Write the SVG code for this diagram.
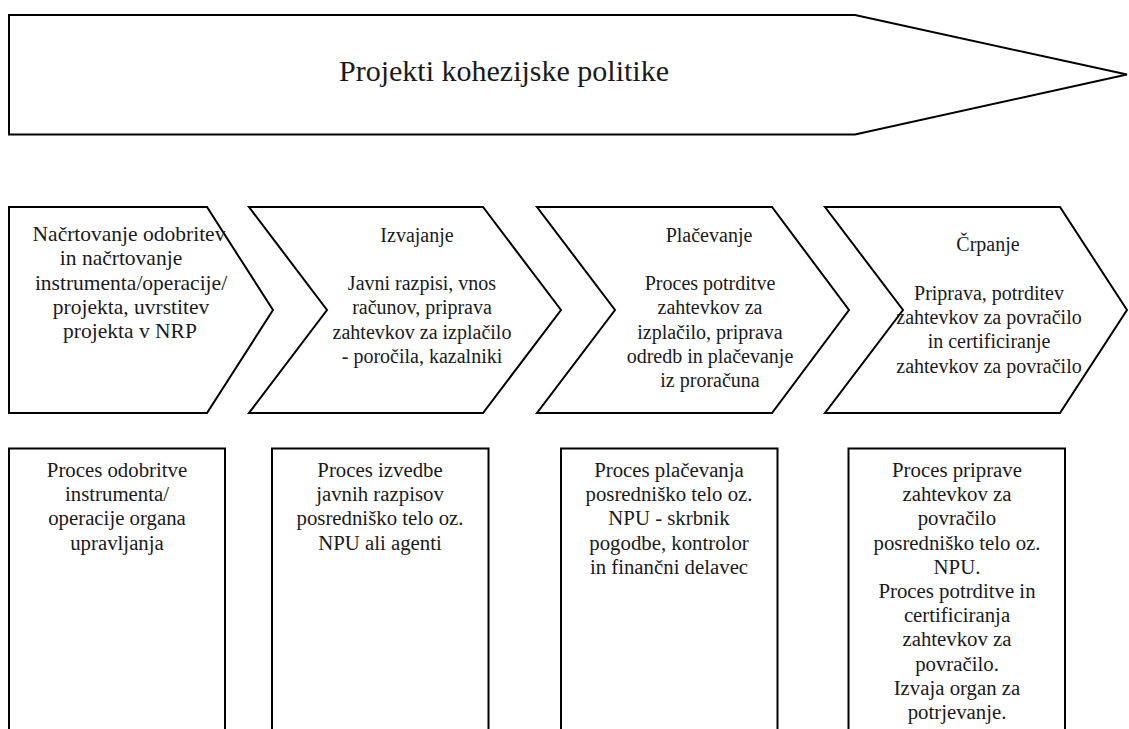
<svg xmlns="http://www.w3.org/2000/svg" width="1129" height="729" viewBox="0 0 1129 729">
<style>
.shape{fill:#fff;stroke:#000;stroke-width:2;stroke-linejoin:miter}
.t{font-family:"Liberation Serif","Times New Roman",serif;font-size:20px;fill:#1a1a1a;text-anchor:middle}
.t1{font-family:"Liberation Serif","Times New Roman",serif;font-size:21.5px;fill:#1a1a1a;text-anchor:middle}
.tb{font-family:"Liberation Serif","Times New Roman",serif;font-size:20.8px;fill:#1a1a1a;text-anchor:middle}
.title{font-family:"Liberation Serif","Times New Roman",serif;font-size:30px;fill:#1a1a1a;text-anchor:middle}
</style>
<rect width="1129" height="729" fill="#fff"/>
<g id="header">
<polygon class="shape" points="9,15 855,15 1127,74.5 855,134.5 9,134.5"/>
<text class="title" x="504" y="81">Projekti kohezijske politike</text>
</g>
<g id="step1">
<polygon class="shape" points="9,207 207,207 273,310 207,413 9,413"/>
<text class="t1" x="129" y="241">Načrtovanje odobritev</text>
<text class="t1" x="121" y="265.3">in načrtovanje</text>
<text class="t1" x="131" y="289.6">instrumenta/operacije/</text>
<text class="t1" x="131" y="313.9">projekta, uvrstitev</text>
<text class="t1" x="130" y="338.2">projekta v NRP</text>
</g>
<g id="step2">
<polygon class="shape" points="249,207 483,207 561,310 483,413 249,413 327,310"/>
<text class="t" x="417" y="241.5">Izvajanje</text>
<text class="t" x="422" y="290">Javni razpisi, vnos</text>
<text class="t" x="422" y="314.3">računov, priprava</text>
<text class="t" x="422" y="338.6">zahtevkov za izplačilo</text>
<text class="t" x="422" y="362.9">- poročila, kazalniki</text>
</g>
<g id="step3">
<polygon class="shape" points="537,207 772,207 849,310 772,413 537,413 615,310"/>
<text class="t" x="709" y="241.5">Plačevanje</text>
<text class="t" x="710" y="290">Proces potrditve</text>
<text class="t" x="710" y="314.3">zahtevkov za</text>
<text class="t" x="710" y="338.6">izplačilo, priprava</text>
<text class="t" x="710" y="362.9">odredb in plačevanje</text>
<text class="t" x="710" y="387.2">iz proračuna</text>
</g>
<g id="step4">
<polygon class="shape" points="825,207 1060,207 1127,310 1060,413 825,413 903,310"/>
<text class="t" x="988" y="251">Črpanje</text>
<text class="t" x="989" y="299.6">Priprava, potrditev</text>
<text class="t" x="989" y="323.9">zahtevkov za povračilo</text>
<text class="t" x="989" y="348.2">in certificiranje</text>
<text class="t" x="989" y="372.5">zahtevkov za povračilo</text>
</g>
<g id="box1">
<rect class="shape" x="9" y="448.5" width="216" height="300"/>
<text class="tb" x="117" y="477">Proces odobritve</text>
<text class="tb" x="117" y="501.2">instrumenta/</text>
<text class="tb" x="117" y="525.4">operacije organa</text>
<text class="tb" x="117" y="549.6">upravljanja</text>
</g>
<g id="box2">
<rect class="shape" x="272" y="448.5" width="216.5" height="300"/>
<text class="tb" x="380" y="477">Proces izvedbe</text>
<text class="tb" x="380" y="501.2">javnih razpisov</text>
<text class="tb" x="380" y="525.4">posredniško telo oz.</text>
<text class="tb" x="380" y="549.6">NPU ali agenti</text>
</g>
<g id="box3">
<rect class="shape" x="561" y="448.5" width="216.5" height="300"/>
<text class="tb" x="669" y="477">Proces plačevanja</text>
<text class="tb" x="669" y="501.2">posredniško telo oz.</text>
<text class="tb" x="669" y="525.4">NPU - skrbnik</text>
<text class="tb" x="669" y="549.6">pogodbe, kontrolor</text>
<text class="tb" x="669" y="573.8">in finančni delavec</text>
</g>
<g id="box4">
<rect class="shape" x="848.5" y="448.5" width="216.5" height="300"/>
<text class="tb" x="957" y="477">Proces priprave</text>
<text class="tb" x="957" y="501.2">zahtevkov za</text>
<text class="tb" x="957" y="525.4">povračilo</text>
<text class="tb" x="957" y="549.6">posredniško telo oz.</text>
<text class="tb" x="957" y="573.8">NPU.</text>
<text class="tb" x="957" y="598">Proces potrditve in</text>
<text class="tb" x="957" y="622.2">certificiranja</text>
<text class="tb" x="957" y="646.4">zahtevkov za</text>
<text class="tb" x="957" y="670.6">povračilo.</text>
<text class="tb" x="957" y="694.8">Izvaja organ za</text>
<text class="tb" x="957" y="719">potrjevanje.</text>
</g>
<g id="connectors"></g>
</svg>
